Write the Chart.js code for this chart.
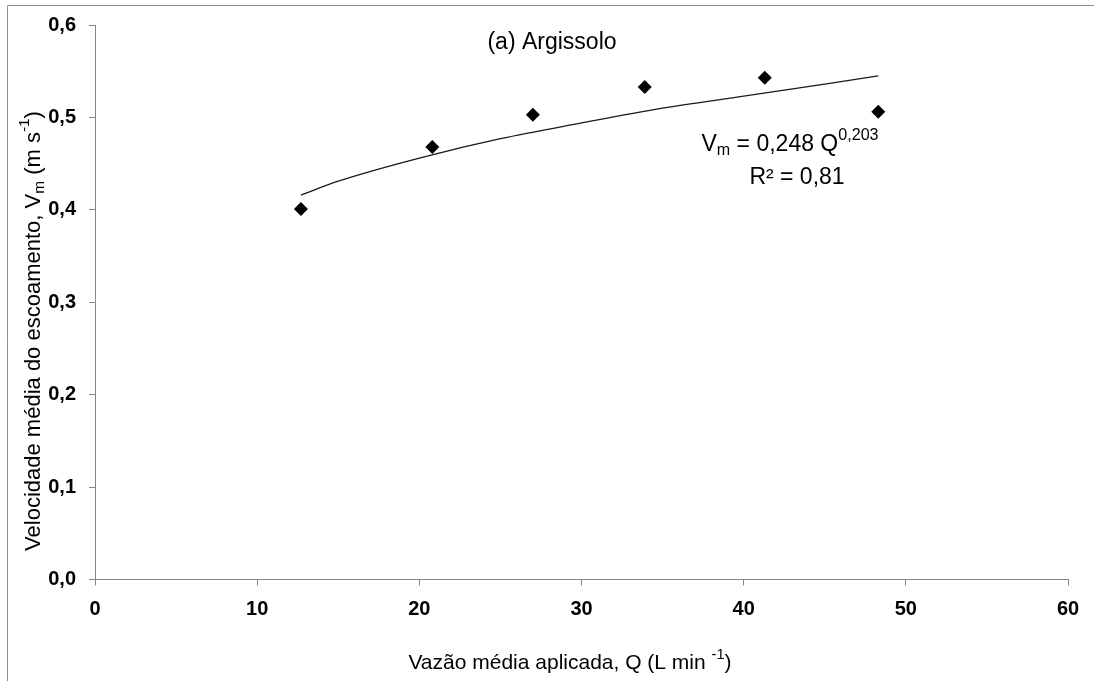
<!DOCTYPE html>
<html>
<head>
<meta charset="utf-8">
<script src="https://cdn.jsdelivr.net/npm/chart.js@4.4.0/dist/chart.umd.min.js"></script>
<style>
  body { margin: 0; background: #fff; }
  #wrap { position: relative; width: 1094px; height: 681px; }
</style>
</head>
<body>
<div id="wrap"><canvas id="grafico"></canvas></div>
<script>
// dados (a) Argissolo
const vazao = [12.7, 20.8, 27.0, 33.9, 41.3, 48.3];
const velocidade = [0.401, 0.468, 0.503, 0.533, 0.543, 0.506];

// linha de tendência (potência)
const vazaoTend = [12.7, 15, 20, 25, 30, 35, 40, 45, 48.3];
const velTend = [0.416, 0.431, 0.456, 0.477, 0.494, 0.510, 0.523, 0.536, 0.545];

const xTicks = [0, 10, 20, 30, 40, 50, 60];
const yTicks = [0, 0.1, 0.2, 0.3, 0.4, 0.5, 0.6];

const fonte = '"Liberation Sans", Arial, sans-serif';

// desenha texto com subscrito / sobrescrito
function textoPartes(ctx, partes, x, y, tam, alinhar) {
  let total = 0;
  partes.forEach(p => {
    ctx.font = (p.s ? tam * 0.7 : tam) + 'px ' + fonte;
    total += ctx.measureText(p.t).width;
  });
  let cx = alinhar === 'center' ? x - total / 2 : x;
  partes.forEach(p => {
    ctx.font = (p.s ? tam * 0.7 : tam) + 'px ' + fonte;
    let dy = 0;
    if (p.s === 'sub') dy = tam * 0.25;
    if (p.s === 'sup') dy = -tam * 0.4;
    ctx.fillText(p.t, cx, y + dy);
    cx += ctx.measureText(p.t).width;
  });
}

const textos = {
  id: 'textos',
  afterDraw(chart) {
    const ctx = chart.ctx;
    ctx.save();
    // moldura
    ctx.strokeStyle = '#8c8c8c';
    ctx.lineWidth = 1;
    ctx.beginPath();
    ctx.moveTo(7.5, 681);
    ctx.lineTo(7.5, 5.5);
    ctx.lineTo(1094, 5.5);
    ctx.stroke();

    ctx.fillStyle = '#000';
    ctx.textBaseline = 'middle';
    ctx.textAlign = 'left';

    ctx.font = '23px ' + fonte;
    ctx.textAlign = 'center';
    ctx.fillText('(a) Argissolo', 552, 43);
    ctx.textAlign = 'left';

    textoPartes(ctx, [
      { t: 'V' }, { t: 'm', s: 'sub' }, { t: ' = 0,248 Q' }, { t: '0,203', s: 'sup' }
    ], 790, 145, 23, 'center');
    ctx.font = '23px ' + fonte;
    ctx.textAlign = 'center';
    ctx.fillText('R² = 0,81', 797, 178);
    ctx.textAlign = 'left';

    // título eixo x
    textoPartes(ctx, [
      { t: 'Vazão média aplicada, Q (L min ' }, { t: '-1', s: 'sup' }, { t: ')' }
    ], 570, 663, 21, 'center');

    // título eixo y
    ctx.translate(34, 331);
    ctx.rotate(-Math.PI / 2);
    textoPartes(ctx, [
      { t: 'Velocidade média do escoamento, V' }, { t: 'm', s: 'sub' },
      { t: ' (m s' }, { t: '-1', s: 'sup' }, { t: ')' }
    ], 0, 0, 22, 'center');
    ctx.restore();
  }
};

new Chart(document.getElementById('grafico'), {
  type: 'scatter',
  data: {
    datasets: [
      {
        label: 'Observado',
        data: vazao.map((q, i) => ({ x: q, y: velocidade[i] })),
        pointStyle: 'rectRot',
        pointRadius: 7,
        pointHoverRadius: 7,
        backgroundColor: '#000',
        borderColor: '#000',
        borderWidth: 0,
        order: 1
      },
      {
        label: 'Tendência',
        type: 'line',
        data: vazaoTend.map((q, i) => ({ x: q, y: velTend[i] })),
        borderColor: '#1a1a1a',
        borderWidth: 1.3,
        pointRadius: 0,
        cubicInterpolationMode: 'monotone',
        fill: false,
        order: 2
      }
    ]
  },
  options: {
    responsive: true,
    maintainAspectRatio: false,
    animation: false,
    layout: { padding: { top: 24, right: 26, left: 0, bottom: 0 } },
    plugins: {
      legend: { display: false },
      tooltip: { enabled: false }
    },
    scales: {
      x: {
        type: 'linear',
        min: 0,
        max: 60,
        afterBuildTicks: s => { s.ticks = xTicks.map(v => ({ value: v })); },
        afterFit: s => { s.height = 101.5; },
        grid: { drawOnChartArea: false, drawTicks: true, tickLength: 6, color: '#868686' },
        border: { color: '#868686', width: 1 },
        ticks: {
          color: '#000',
          padding: 12,
          maxRotation: 0,
          font: { family: fonte, size: 20, weight: 'bold' }
        }
      },
      y: {
        min: 0,
        max: 0.6,
        afterBuildTicks: s => { s.ticks = yTicks.map(v => ({ value: v })); },
        afterFit: s => { s.width = 95; },
        grid: { drawOnChartArea: false, drawTicks: true, tickLength: 6, color: '#868686' },
        border: { color: '#868686', width: 1 },
        ticks: {
          color: '#000',
          padding: 13,
          font: { family: fonte, size: 20, weight: 'bold' },
          callback: v => v.toFixed(1).replace('.', ',')
        }
      }
    }
  },
  plugins: [textos]
});
</script>
</body>
</html>
